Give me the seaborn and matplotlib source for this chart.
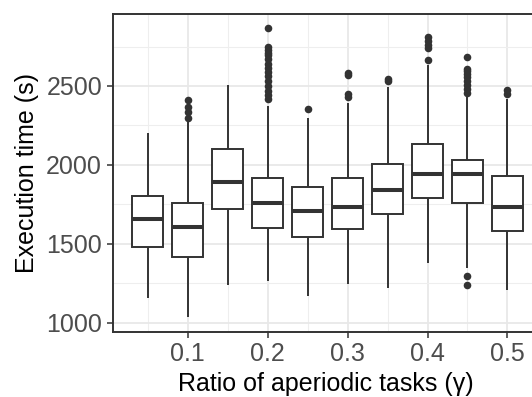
import numpy as np
import pandas as pd
import matplotlib
matplotlib.use("Agg")
import matplotlib.pyplot as plt
import seaborn as sns

# ---- data ----
gamma = [0.05, 0.10, 0.15, 0.20, 0.25, 0.30, 0.35, 0.40, 0.45, 0.50]
whisker_low = [1154, 1034, 1237, 1266, 1169, 1243, 1218, 1376, 1344, 1207]
q1 = [1481, 1414, 1718, 1597, 1540, 1591, 1686, 1787, 1756, 1582]
median = [1654, 1604, 1892, 1759, 1709, 1734, 1840, 1939, 1939, 1734]
q3 = [1802, 1759, 2099, 1918, 1857, 1914, 2004, 2131, 2034, 1928]
whisker_high = [2203, 2272, 2509, 2371, 2300, 2389, 2494, 2631, 2430, 2420]
outliers = [
    [],
    [2294, 2335, 2367, 2414],
    [],
    [2415, 2440, 2470, 2500, 2530, 2560, 2590, 2615, 2640, 2670, 2695, 2712,
     2730, 2747, 2867],
    [2357],
    [2430, 2447, 2568, 2585],
    [2530, 2545],
    [2663, 2740, 2760, 2785, 2808],
    [1239, 1297, 2455, 2480, 2505, 2530, 2555, 2575, 2595, 2610, 2684],
    [2452, 2473],
]
xticks = [0.1, 0.2, 0.3, 0.4, 0.5]
yticks = [1000, 1500, 2000, 2500]

# Build a table whose box statistics equal the values read above
rows = []
rep = 20
for g, lo, a, m, b, hi in zip(gamma, whisker_low, q1, median, q3, whisker_high):
    vals = [lo] + [a] * rep + [m] * rep + [b] * rep + [hi]
    rows += [(g, v) for v in vals]
box_df = pd.DataFrame(rows, columns=["gamma", "time"])
out_df = pd.DataFrame(
    [(g, v) for g, vs in zip(gamma, outliers) for v in vs],
    columns=["gamma", "time"],
)

sns.set_theme(style="white")
plt.rcParams["font.family"] = ["Liberation Sans", "DejaVu Sans"]

fig = plt.figure(figsize=(5.32, 3.97), dpi=100)
ax = fig.add_axes([112.5 / 532, 1 - 332 / 397, (540 - 112.5) / 532, (332 - 14) / 397])

dark = "#333333"
sns.boxplot(
    data=box_df, x="gamma", y="time", native_scale=True, width=0.78,
    color="white", linecolor=dark, linewidth=1.4, whis=(0, 100),
    showfliers=False, saturation=1, ax=ax,
    medianprops={"linewidth": 2.9, "color": dark},
    whiskerprops={"linewidth": 1.4, "color": dark},
    capprops={"linewidth": 0},
)
sns.scatterplot(data=out_df, x="gamma", y="time", color=dark, s=30,
                edgecolor=dark, linewidth=0, ax=ax, zorder=5)

ax.set_xlim(0.006, 0.5407)
ax.set_ylim(941, 2956)
ax.set_xticks(xticks)
ax.set_xticklabels([f"{t:.1f}" for t in xticks])
ax.set_yticks(yticks)
ax.set_yticklabels([str(t) for t in yticks])
ax.set_xticks([0.05, 0.15, 0.25, 0.35, 0.45], minor=True)
ax.set_yticks([1250, 1750, 2250, 2750], minor=True)

ax.grid(True, which="major", color="#E8E8E8", linewidth=1.3)
ax.grid(True, which="minor", color="#EEEEEE", linewidth=0.8)
ax.set_axisbelow(True)
ax.set_facecolor("white")

for s in ax.spines.values():
    s.set_color(dark)
    s.set_linewidth(1.4)

ax.tick_params(axis="both", which="major", length=4, width=1.1, color=dark,
               labelcolor="#4D4D4D", labelsize=18, pad=3.5, direction="out",
               bottom=True, left=True)
ax.tick_params(axis="both", which="minor", length=0)

ax.set_xlabel("Ratio of aperiodic tasks (γ)", fontsize=18, color="black", labelpad=4)
ax.set_ylabel("Execution time (s)", fontsize=18, color="black", labelpad=5)

fig.savefig("out.png", dpi=100)
